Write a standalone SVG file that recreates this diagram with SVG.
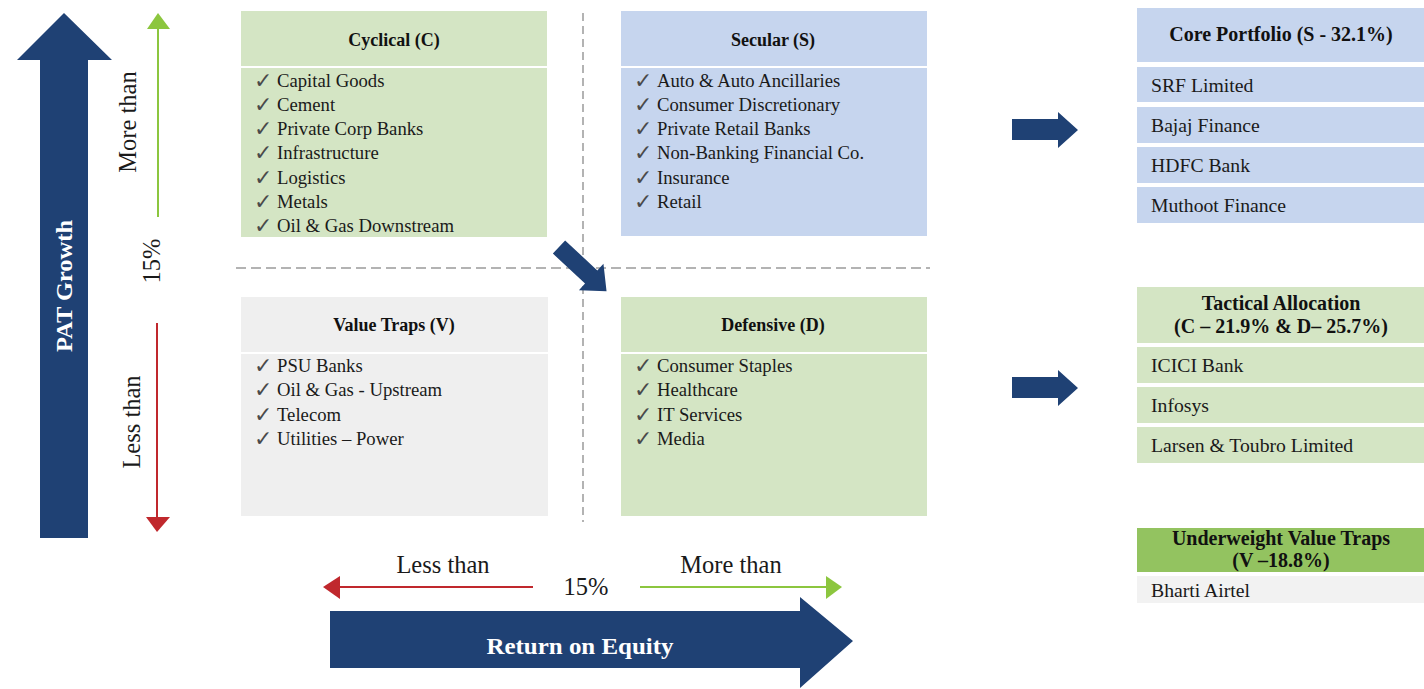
<svg xmlns="http://www.w3.org/2000/svg" width="1424" height="689" viewBox="0 0 1424 689">
<defs>
<style>
.t{font-family:"Liberation Serif","Times New Roman",serif;font-size:18.7px;fill:#1a1a1a}
.r{font-family:"Liberation Serif","Times New Roman",serif;font-size:19.7px;fill:#1a1a1a}
.lab{font-family:"Liberation Serif","Times New Roman",serif;font-size:24.5px;fill:#1a1a1a}
.b{font-family:"Liberation Serif","Times New Roman",serif;font-size:18px;font-weight:bold;fill:#111}
.rb{font-family:"Liberation Serif","Times New Roman",serif;font-size:20px;font-weight:bold;fill:#111}
.w{font-family:"Liberation Serif","Times New Roman",serif;font-weight:bold;fill:#fff}
.ck{font-family:"DejaVu Sans",sans-serif;font-size:22px;font-weight:bold;fill:#4a4a4a}
.navy{fill:#1f4174}
.green{fill:#d4e5c4}
.blue{fill:#c6d5ee}
.grey{fill:#efefef}
.sep{stroke:#fff;stroke-width:2}
.dash{stroke:#b3b3b3;stroke-width:2;fill:none}
</style>
</defs>
<rect width="1424" height="689" fill="#fff"/>

<g id="connectors">
<path class="navy" d="M40,538 L40,60 L17,60 L64,13 L112,60 L88,60 L88,538 Z"/>
<line x1="158" y1="217" x2="158" y2="28" stroke="#8cc63f" stroke-width="2"/>
<path d="M147,29 L158,13 L170,29 Z" fill="#8cc63f"/>
<line x1="157" y1="323" x2="157" y2="518" stroke="#c0282d" stroke-width="2"/>
<path d="M146,517 L157,532 L170,517 Z" fill="#c0282d"/>
<line class="dash" x1="583" y1="13" x2="583" y2="522" stroke-dasharray="8 5"/>
<line class="dash" x1="236" y1="268" x2="930" y2="268" stroke-dasharray="10 5"/>
<path class="navy" transform="translate(559,247) rotate(43)" d="M0,-9 L44,-9 L44,-18 L65,0 L44,18 L44,9 L0,9 Z"/>
<path class="navy" d="M1012,119 L1058,119 L1058,112 L1078,130 L1058,148 L1058,140 L1012,140 Z"/>
<path class="navy" d="M1012,377 L1058,377 L1058,370 L1078,388 L1058,406 L1058,398 L1012,398 Z"/>
<line x1="339" y1="587" x2="533" y2="587" stroke="#c0282d" stroke-width="2"/>
<path d="M340,576 L323,587 L340,599 Z" fill="#c0282d"/>
<line x1="640" y1="587" x2="827" y2="587" stroke="#8cc63f" stroke-width="2"/>
<path d="M826,576 L842,587 L826,599 Z" fill="#8cc63f"/>
<path class="navy" d="M330,611 L800,611 L800,597 L853,641 L800,688 L800,668 L330,668 Z"/>
</g>

<g id="axis-labels">
<text class="w" font-size="23" transform="translate(72,286) rotate(-90)" text-anchor="middle" textLength="132" lengthAdjust="spacingAndGlyphs">PAT Growth</text>
<text class="lab" transform="translate(136,122) rotate(-90)" text-anchor="middle">More than</text>
<text class="lab" transform="translate(160,261) rotate(-90)" text-anchor="middle">15%</text>
<text class="lab" transform="translate(140,422) rotate(-90)" text-anchor="middle">Less than</text>
<text class="lab" x="443" y="573" text-anchor="middle">Less than</text>
<text class="lab" x="586" y="595" text-anchor="middle">15%</text>
<text class="lab" x="731" y="573" text-anchor="middle">More than</text>
<text class="w" font-size="23" x="580" y="654" text-anchor="middle" textLength="187" lengthAdjust="spacingAndGlyphs">Return on Equity</text>
</g>

<g id="cyclical">
<rect class="green" x="241" y="11" width="306" height="226"/>
<line class="sep" x1="241" y1="67" x2="547" y2="67"/>
<text class="b" x="394" y="46" text-anchor="middle">Cyclical (C)</text>
<g class="ck"><text x="254" y="88">✓</text><text x="254" y="112">✓</text><text x="254" y="136">✓</text><text x="254" y="160">✓</text><text x="254" y="185">✓</text><text x="254" y="209">✓</text><text x="254" y="233">✓</text></g>
<text class="t" x="277" y="87">Capital Goods</text>
<text class="t" x="277" y="111">Cement</text>
<text class="t" x="277" y="135">Private Corp Banks</text>
<text class="t" x="277" y="159">Infrastructure</text>
<text class="t" x="277" y="184">Logistics</text>
<text class="t" x="277" y="208">Metals</text>
<text class="t" x="277" y="232">Oil &amp; Gas Downstream</text>
</g>

<g id="secular">
<rect class="blue" x="621" y="11" width="306" height="225"/>
<line class="sep" x1="621" y1="67" x2="927" y2="67"/>
<text class="b" x="773" y="46" text-anchor="middle">Secular (S)</text>
<g class="ck"><text x="634" y="88">✓</text><text x="634" y="112">✓</text><text x="634" y="136">✓</text><text x="634" y="160">✓</text><text x="634" y="185">✓</text><text x="634" y="209">✓</text></g>
<text class="t" x="657" y="87">Auto &amp; Auto Ancillaries</text>
<text class="t" x="657" y="111">Consumer Discretionary</text>
<text class="t" x="657" y="135">Private Retail Banks</text>
<text class="t" x="657" y="159">Non-Banking Financial Co.</text>
<text class="t" x="657" y="184">Insurance</text>
<text class="t" x="657" y="208">Retail</text>
</g>

<g id="value-traps">
<rect class="grey" x="241" y="297" width="307" height="219"/>
<line class="sep" x1="241" y1="353" x2="548" y2="353"/>
<text class="b" x="394" y="331" text-anchor="middle">Value Traps (V)</text>
<g class="ck"><text x="254" y="373">✓</text><text x="254" y="397">✓</text><text x="254" y="422">✓</text><text x="254" y="446">✓</text></g>
<text class="t" x="277" y="372">PSU Banks</text>
<text class="t" x="277" y="396">Oil &amp; Gas - Upstream</text>
<text class="t" x="277" y="421">Telecom</text>
<text class="t" x="277" y="445">Utilities – Power</text>
</g>

<g id="defensive">
<rect class="green" x="621" y="297" width="306" height="219"/>
<line class="sep" x1="621" y1="353" x2="927" y2="353"/>
<text class="b" x="773" y="331" text-anchor="middle">Defensive (D)</text>
<g class="ck"><text x="634" y="373">✓</text><text x="634" y="397">✓</text><text x="634" y="422">✓</text><text x="634" y="446">✓</text></g>
<text class="t" x="657" y="372">Consumer Staples</text>
<text class="t" x="657" y="396">Healthcare</text>
<text class="t" x="657" y="421">IT Services</text>
<text class="t" x="657" y="445">Media</text>
</g>

<g id="core-portfolio">
<rect class="blue" x="1137" y="8" width="287" height="54"/>
<text class="rb" x="1281" y="41" text-anchor="middle">Core Portfolio (S - 32.1%)</text>
<rect class="blue" x="1137" y="67" width="287" height="35"/>
<text class="r" x="1151" y="92">SRF Limited</text>
<rect class="blue" x="1137" y="107" width="287" height="36"/>
<text class="r" x="1151" y="132">Bajaj Finance</text>
<rect class="blue" x="1137" y="147" width="287" height="36"/>
<text class="r" x="1151" y="172">HDFC Bank</text>
<rect class="blue" x="1137" y="187" width="287" height="36"/>
<text class="r" x="1151" y="212">Muthoot Finance</text>
</g>

<g id="tactical-allocation">
<rect class="green" x="1137" y="287" width="287" height="56"/>
<text class="rb" x="1281" y="310" text-anchor="middle">Tactical Allocation</text>
<text class="rb" x="1281" y="333" text-anchor="middle">(C – 21.9% &amp; D– 25.7%)</text>
<rect class="green" x="1137" y="347" width="287" height="36"/>
<text class="r" x="1151" y="372">ICICI Bank</text>
<rect class="green" x="1137" y="387" width="287" height="36"/>
<text class="r" x="1151" y="412">Infosys</text>
<rect class="green" x="1137" y="427" width="287" height="36"/>
<text class="r" x="1151" y="452">Larsen &amp; Toubro Limited</text>
</g>

<g id="underweight-value-traps">
<rect x="1137" y="528" width="287" height="44" fill="#93c360"/>
<text class="rb" x="1281" y="545" text-anchor="middle">Underweight Value Traps</text>
<text class="rb" x="1281" y="567" text-anchor="middle">(V –18.8%)</text>
<rect x="1137" y="576" width="287" height="27" fill="#f2f2f2"/>
<text class="r" x="1151" y="597">Bharti Airtel</text>
</g>
</svg>
